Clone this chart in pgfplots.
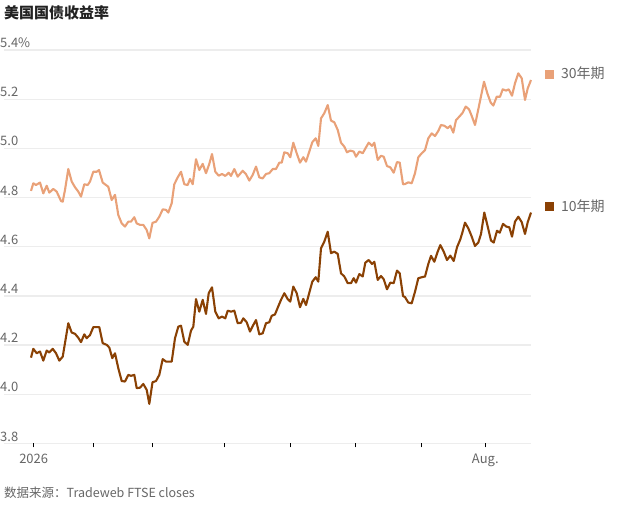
\documentclass[border=0pt]{standalone}
\usepackage{fontspec}
\setmainfont{Noto Sans CJK SC}
\usepackage{pgfplots}
\pgfplotsset{compat=1.18}
\definecolor{c30}{HTML}{E9A178}
\definecolor{c10}{HTML}{8A4104}
\definecolor{gridc}{HTML}{EDEDED}
\definecolor{txt}{HTML}{666666}
\definecolor{ttl}{HTML}{222222}

\pgfplotstableread{
x y
31 4.827
33.3 4.858
36 4.851
40 4.861
43.3 4.817
46.7 4.848
49.3 4.820
53.3 4.835
56.7 4.824
61 4.786
62.7 4.783
65 4.831
68.3 4.916
71.7 4.865
75 4.842
78.3 4.824
81 4.804
84.3 4.854
87.7 4.851
90 4.865
93.3 4.905
96.7 4.905
99 4.912
102.7 4.861
108.3 4.844
111.7 4.790
115 4.811
118.3 4.729
121.7 4.695
125 4.682
128.3 4.702
131 4.702
134.3 4.720
136.7 4.695
140 4.689
143.3 4.689
146.7 4.668
149.3 4.634
152.5 4.697
156 4.702
159.3 4.722
162.7 4.752
166 4.750
168.3 4.739
171.7 4.777
174.3 4.854
177.7 4.882
181 4.905
184.3 4.854
187.7 4.851
190 4.876
192.7 4.854
196 4.956
199.3 4.912
202.7 4.937
206 4.899
209.3 4.937
212 4.977
215.3 4.905
218.7 4.889
222 4.896
225.3 4.888
228.7 4.901
231 4.888
234.3 4.916
237.7 4.885
242.7 4.909
246 4.895
249.3 4.869
252.7 4.892
256 4.926
259.3 4.882
262.7 4.878
266 4.896
269.3 4.899
272.7 4.916
276 4.916
279.3 4.942
281.7 4.942
284.3 4.984
287.7 4.980
290.3 4.964
293.3 5.023
296.7 4.980
300 4.942
303.3 4.964
306 4.946
309.3 4.987
312.3 5.025
315.7 5.041
318.3 5.010
321 5.122
324.3 5.143
327.7 5.176
331 5.113
334.3 5.106
337.7 5.075
341 5.023
344.3 5.007
347 4.984
350.3 4.991
353.7 4.987
356 4.966
359.3 4.987
362.7 4.980
366 5.004
368.7 5.023
372 5.010
374.3 5.023
377.7 4.953
381 4.970
383.7 4.966
387 4.928
390.3 4.923
393.7 4.901
397 4.944
399.7 4.942
403 4.854
405 4.855
408.3 4.862
411.7 4.858
415 4.899
418.3 4.964
421.7 4.980
425 4.993
428.3 5.041
431.7 5.061
435 5.050
438.3 5.071
441 5.095
444.3 5.092
447.7 5.082
450.3 5.092
453.3 5.064
456 5.115
459.3 5.129
462.7 5.145
465.7 5.170
469 5.159
471.7 5.132
475 5.095
478.3 5.159
484 5.271
487.3 5.224
490.7 5.186
493.3 5.174
496.7 5.210
500 5.210
502.7 5.240
506 5.235
508.7 5.240
512 5.214
515 5.265
518.3 5.305
521.7 5.285
525 5.197
527.7 5.244
531 5.278
}\thirty

\pgfplotstableread{
x y
31 4.149
33.3 4.185
36.7 4.167
40 4.174
43.3 4.137
46.7 4.178
49.3 4.170
52.7 4.185
56 4.167
59.3 4.137
62.7 4.153
68.3 4.289
71.7 4.251
75 4.246
78.3 4.230
81 4.212
84.3 4.244
86.7 4.228
90 4.241
93.3 4.273
96.7 4.273
99.3 4.273
102.7 4.208
106.7 4.201
109.3 4.190
112.3 4.147
115 4.167
118.3 4.106
121.7 4.054
125 4.052
128.3 4.079
131 4.075
134.3 4.079
136.7 4.025
140 4.027
143.3 4.042
146.7 4.018
149.3 3.961
152.5 4.049
156 4.054
159.3 4.079
162.7 4.143
166 4.133
169.3 4.133
171.7 4.133
175 4.228
178.3 4.275
181 4.279
184.3 4.214
187.7 4.201
191 4.259
193.3 4.275
196 4.387
199.3 4.336
202.7 4.384
206 4.327
208.7 4.411
212 4.435
215.3 4.336
218.7 4.309
222 4.316
225.3 4.309
227.7 4.340
231 4.336
234.3 4.340
237.7 4.289
241 4.291
243.3 4.309
246.7 4.293
250 4.255
253.3 4.282
256 4.302
259.3 4.244
262.7 4.248
266 4.289
269.3 4.293
271.7 4.319
275 4.325
278 4.355
281 4.384
284.3 4.411
287.7 4.387
290.3 4.377
293.3 4.438
296.7 4.411
300 4.354
303.3 4.388
306 4.363
309.3 4.413
312.3 4.458
315.7 4.476
318.3 4.458
321 4.594
324.3 4.621
327.7 4.661
331 4.574
334.3 4.580
337.7 4.571
341 4.492
344.3 4.479
347.7 4.452
351 4.452
353.7 4.472
356 4.454
359.3 4.489
362.7 4.479
365.3 4.535
368.7 4.546
372 4.530
374.3 4.539
377.7 4.465
381 4.481
383.7 4.468
387 4.427
390.3 4.454
393.7 4.452
397 4.503
399.7 4.492
403 4.400
405 4.395
408.3 4.373
411.7 4.370
415 4.417
418.3 4.472
421.7 4.476
425 4.479
428.3 4.530
431 4.563
434.3 4.539
437.7 4.580
440.3 4.607
443.7 4.580
447 4.546
450.3 4.564
453.7 4.542
457 4.598
460.3 4.630
462.3 4.657
465 4.698
468.3 4.675
471.7 4.641
475 4.603
478.3 4.617
481 4.652
484.3 4.739
487.7 4.682
491 4.625
493.7 4.617
497 4.665
499.7 4.657
503 4.693
506.3 4.682
509.3 4.679
512 4.641
515 4.702
518.3 4.722
521.7 4.700
525 4.652
527.7 4.700
531 4.739
}\ten

\begin{document}
\begin{tikzpicture}[x=1bp,y=1bp]
\useasboundingbox (0,0) rectangle (619,507);
\begin{axis}[
  at={(4bp,63.5bp)}, anchor=south west,
  width=527bp, height=393.5bp, scale only axis,
  xmin=4, xmax=531, ymin=3.8, ymax=5.4,
  axis line style={draw=none},
  ymajorgrids, grid style={gridc, line width=1.3bp},
  ytick={3.8,4.0,4.2,4.4,4.6,4.8,5.0,5.2,5.4},
  yticklabels={3.8,4.0,4.2,4.4,4.6,4.8,5.0,5.2,5.4\%},
  ytick style={draw=none},
  yticklabel style={anchor=south west, inner sep=0pt, xshift=0bp, yshift=2bp, text=txt, font=\fontsize{13bp}{15bp}\selectfont},
  xtick={33.7,93.3,152.3,224.3,290.7,355.3,421.3,485.3},
  xticklabels={2026,,,,,,,Aug.},
  xtick pos=bottom, ytick pos=left,
  tick align=outside, major tick length=4bp,
  xtick style={black, line width=0.7bp},
  xticklabel style={text=txt, font=\fontsize{13bp}{15bp}\selectfont, inner sep=0pt, yshift=-6bp},
  /pgf/number format/assume math mode=true,
  clip=false,
]
\addplot[c30, line width=2.1bp, line join=round] table[x=x,y=y] {\thirty};
\addplot[c10, line width=2.1bp, line join=round] table[x=x,y=y] {\ten};
\end{axis}
\node[anchor=west, inner sep=0pt, text=ttl, font=\fontsize{15bp}{17bp}\selectfont\bfseries] at (4,494.5) {美国国债收益率};
\node[anchor=west, inner sep=0pt, text=txt, font=\fontsize{12.5bp}{14bp}\selectfont] at (4,14) {数据来源：Tradeweb FTSE closes};
\node[anchor=west, inner sep=0pt, text=txt, font=\fontsize{14bp}{16bp}\selectfont] at (545,433.5) {\textcolor{c30}{\rule{9bp}{9bp}}\hspace{7bp}30年期};
\node[anchor=west, inner sep=0pt, text=txt, font=\fontsize{14bp}{16bp}\selectfont] at (545,301) {\textcolor{c10}{\rule{9bp}{9bp}}\hspace{7bp}10年期};
\end{tikzpicture}
\end{document}
